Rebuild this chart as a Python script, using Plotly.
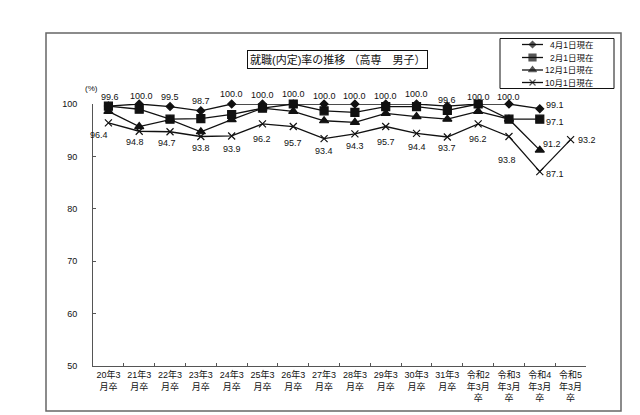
import plotly.graph_objects as go

# ---------------- data ----------------
categories = ["20年3<br>月卒", "21年3<br>月卒", "22年3<br>月卒", "23年3<br>月卒",
              "24年3<br>月卒", "25年3<br>月卒", "26年3<br>月卒", "27年3<br>月卒",
              "28年3<br>月卒", "29年3<br>月卒", "30年3<br>月卒", "31年3<br>月卒",
              "令和2<br>年3月<br>卒", "令和3<br>年3月<br>卒", "令和4<br>年3月<br>卒",
              "令和5<br>年3月<br>卒"]
series_names = ["4月1日現在", "2月1日現在", "12月1日現在", "10月1日現在"]
apr = [99.6, 100.0, 99.5, 98.7, 100.0, 100.0, 100.0, 100.0, 100.0, 100.0, 100.0, 99.6, 100.0, 100.0, 99.1, None]
feb = [99.6, 99.0, 97.1, 97.2, 98.0, 99.2, 100.0, 98.7, 98.4, 99.5, 99.5, 98.8, 100.0, 97.1, 97.1, None]
dec = [98.6, 95.7, 97.0, 94.7, 97.0, 99.2, 98.6, 96.8, 96.5, 98.2, 97.6, 97.1, 98.6, 97.1, 91.2, None]
octo = [96.4, 94.8, 94.7, 93.8, 93.9, 96.2, 95.7, 93.4, 94.3, 95.7, 94.4, 93.7, 96.2, 93.8, 87.1, 93.2]
y_ticks = [50, 60, 70, 80, 90, 100]
title_text = "就職(内定)率の推移 （高専　男子）"
unit_text = "(%)"

# ---------------- styles ----------------
W, H = 640, 415
FONT = "Liberation Sans, Arial, Noto Sans CJK JP"
INK = "#111111"
symbols = ["diamond", "square", "triangle-up", "x-thin"]
sizes = [6, 8, 8, 7]
series = [apr, feb, dec, octo]

# label offsets (dx, dy in px; dy positive = downward); None = no label
apr_off = [(2, -9), (2, -8), (0, -10), (0, -10), (0, -10), (0, -9), (0, -10), (0, -8),
           (0, -8), (0, -8), (0, -10), (0, -6), (0, -7), (0, -7), (15, -4), None]
feb_off = [None] * 14 + [(15, 3), None]
dec_off = [None] * 14 + [(12, -6), None]
oct_off = [(-9, 12), (-4, 11), (-3, 11), (0, 12), (0, 13), (0, 15), (0, 16), (0, 12),
           (0, 12), (0, 15), (0, 14), (0, 11), (0, 15), (-2, 24), (15, 2), (16, 0)]
offsets = [apr_off, feb_off, dec_off, oct_off]

# plot area in pixels
px_l, px_r, px_t, px_b = 85, 578, 96, 358

fig = go.Figure()
for name, vals, sym, sz in zip(series_names, series, symbols, sizes):
    fig.add_trace(go.Scatter(
        x=categories, y=vals, mode="lines+markers", name=name,
        line=dict(color=INK, width=1.3),
        marker=dict(symbol=sym, size=sz, color=INK, line=dict(color=INK, width=1.2)),
        cliponaxis=False, showlegend=False, connectgaps=False,
        xaxis="x", yaxis="y"))

annotations = []
for vals, offs in zip(series, offsets):
    for c, v, o in zip(categories, vals, offs):
        if v is None or o is None:
            continue
        annotations.append(dict(
            x=c, y=v, xref="x", yref="y", text=f"{v:.1f}", showarrow=False,
            xanchor="center", yanchor="middle", xshift=o[0], yshift=-o[1],
            font=dict(family=FONT, size=9, color=INK)))

# ---------- overlay pixel axes (x2/y2) for frame, title, legend ----------
legend_rows = [36.5, 49.5, 62, 74.5]
for name, sym, sz, ry in zip(series_names, symbols, sizes, legend_rows):
    fig.add_trace(go.Scatter(
        x=[514, 524.5, 535], y=[ry, ry, ry], mode="lines+markers",
        line=dict(color=INK, width=1.3),
        marker=dict(symbol=sym, size=[0, sz - 1, 0], color=INK, line=dict(color=INK, width=1.2)),
        showlegend=False, hoverinfo="skip", xaxis="x2", yaxis="y2", cliponaxis=False))
    annotations.append(dict(x=587, y=ry, xref="x2", yref="y2", text=name, showarrow=False,
                            xanchor="right", yanchor="middle",
                            font=dict(family=FONT, size=8.5, color=INK)))

annotations.append(dict(x=329, y=51.5, xref="x2", yref="y2", text=title_text, showarrow=False,
                        xanchor="center", yanchor="middle", bordercolor=INK, borderwidth=1,
                        borderpad=2, bgcolor="white",
                        font=dict(family=FONT, size=11, color=INK)))
annotations.append(dict(x=83, y=80, xref="x2", yref="y2", text=unit_text, showarrow=False,
                        xanchor="center", yanchor="middle",
                        font=dict(family=FONT, size=8, color=INK)))

shapes = [
    dict(type="rect", xref="x2", yref="y2", x0=38, x1=613, y0=25, y1=403,
         line=dict(color="#666666", width=1.5), layer="below"),
    dict(type="rect", xref="x2", yref="y2", x0=492, x1=606, y0=30.5, y1=80.5,
         line=dict(color=INK, width=1), layer="below"),
]

fig.update_layout(
    width=W, height=H, margin=dict(l=0, r=0, t=0, b=0),
    paper_bgcolor="white", plot_bgcolor="rgba(0,0,0,0)",
    showlegend=False,
    xaxis=dict(domain=[px_l / W, px_r / W], type="category", range=[-0.5, 15.5],
               showline=True, linecolor="#555555", linewidth=1, mirror=False,
               ticks="inside", ticklen=3, tickcolor="#555555", tickson="boundaries",
               showgrid=False, zeroline=False, automargin=False,
               tickfont=dict(family=FONT, size=9, color=INK), tickangle=0,
               anchor="y"),
    yaxis=dict(domain=[1 - px_b / H, 1 - px_t / H], range=[50, 100], tickvals=y_ticks,
               showline=True, linecolor="#555555", linewidth=1,
               ticks="inside", ticklen=3, tickcolor="#555555",
               showgrid=False, zeroline=False, automargin=False,
               ticklabelstandoff=13,
               tickfont=dict(family=FONT, size=9, color=INK), anchor="x"),
    xaxis2=dict(domain=[0, 1], range=[0, W], visible=False, anchor="y2", fixedrange=True),
    yaxis2=dict(domain=[0, 1], range=[H, 0], visible=False, anchor="x2", fixedrange=True),
    annotations=annotations, shapes=shapes,
)

fig.write_html("out.html")
